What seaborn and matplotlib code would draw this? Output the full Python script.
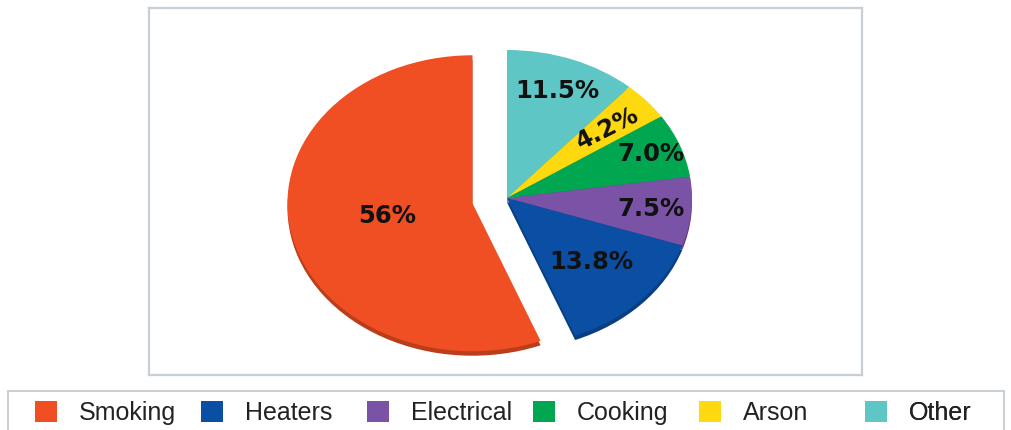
import matplotlib
matplotlib.use("Agg")
import matplotlib.pyplot as plt
import matplotlib.colors as mcolors
from matplotlib.patches import Patch
import seaborn as sns

# ---- data ----
categories = ["Other", "Arson", "Cooking", "Electrical", "Heaters", "Smoking"]
values = [11.5, 4.2, 7.0, 7.5, 13.8, 56.0]
pct_labels = ["11.5%", "4.2%", "7.0%", "7.5%", "13.8%", "56%"]
legend_order = ["Smoking", "Heaters", "Electrical", "Cooking", "Arson", "Other"]

# ---- style ----
colors = {"Smoking": "#F04E23", "Heaters": "#0B4FA5", "Electrical": "#7A52A6",
          "Cooking": "#00A650", "Arson": "#FFD90F", "Other": "#5EC6C5"}
explode = [0, 0, 0, 0, 0, 0.19]
label_r = [0.77, 0.72, 0.83, 0.78, 0.63, 0.47]
label_rot = [0, 27, 0, 0, 0, 0]

sns.set_theme(style="white")
plt.rcParams["font.family"] = ["DejaVu Sans"]

W, H = 1011, 430
fig = plt.figure(figsize=(W / 100, H / 100), dpi=100)
fig.patch.set_facecolor("white")

# main frame axes
fx0, fx1, fy0, fy1 = 149, 862, 8, 375
ax = fig.add_axes([fx0 / W, (H - fy1) / H, (fx1 - fx0) / W, (fy1 - fy0) / H])

cols = [colors[c] for c in categories]
dark = [tuple(v * 0.78 for v in mcolors.to_rgb(c)) for c in cols]

# depth layer (slight 3D rim)
ax.pie(values, colors=dark, explode=explode, startangle=90, counterclock=False,
       center=(0, -0.03), wedgeprops=dict(linewidth=0), frame=True)
wedges, texts, autotexts = ax.pie(
    values, colors=cols, explode=explode, startangle=90, counterclock=False,
    autopct="%1.1f%%", pctdistance=1.0, wedgeprops=dict(linewidth=0), frame=True)

for w, t, lab, r, rot in zip(wedges, autotexts, pct_labels, label_r, label_rot):
    cx, cy = w.center
    px, py = t.get_position()
    t.set_position((cx + r * (px - cx), cy + r * (py - cy)))
    t.set_text(lab)
    t.set_fontsize(17.5)
    t.set_fontweight("bold")
    t.set_color("#111111")
    t.set_rotation(rot)
    t.set_ha("center")
    t.set_va("center")

# elliptical pie: radius 185 px horizontally, 148 px vertically
cx_px, cy_px, rx, ry = 507, 198, 185, 148
ax.set_aspect("auto")
ax.set_xlim(-(cx_px - fx0) / rx, (fx1 - cx_px) / rx)
ax.set_ylim(-(fy1 - cy_px) / ry, (cy_px - fy0) / ry)
ax.set_xticks([])
ax.set_yticks([])
for s in ax.spines.values():
    s.set_visible(True)
    s.set_color("#c8d0d6")
    s.set_linewidth(1.6)

# legend box
lax = fig.add_axes([8 / W, -5 / H, 996 / W, 44 / H])
lax.set_xticks([])
lax.set_yticks([])
for s in lax.spines.values():
    s.set_color("#c8d0d6")
    s.set_linewidth(1.4)

step = 1 / 6
for i, name in enumerate(legend_order):
    handle = Patch(facecolor=colors[name], edgecolor="none")
    leg = lax.legend([handle], [name], loc="center left",
                     bbox_to_anchor=(0.027 + i * step, 0.5), frameon=False,
                     borderpad=0, borderaxespad=0, handlelength=0.9,
                     handleheight=0.9, handletextpad=0.85,
                     prop={"family": "Liberation Sans", "size": 18})
    for txt in leg.get_texts():
        txt.set_color("#222222")
    lax.add_artist(leg)

fig.savefig("out.png", dpi=100, facecolor="white")
